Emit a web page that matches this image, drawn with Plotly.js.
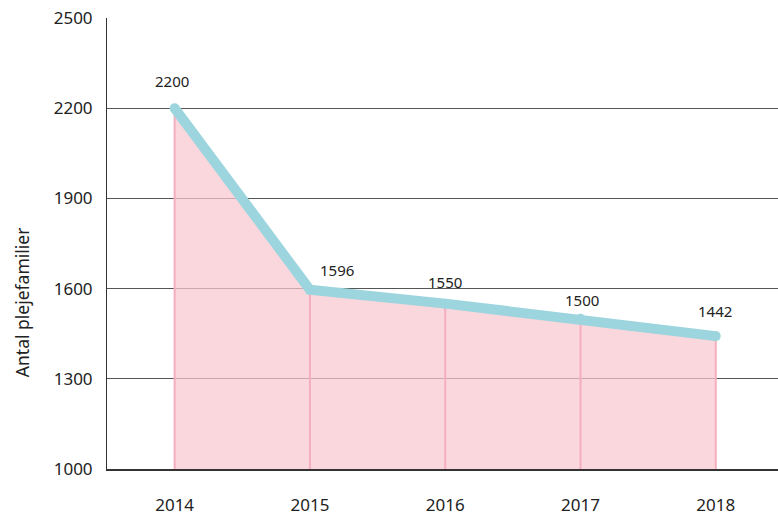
<!DOCTYPE html>
<html><head><meta charset="utf-8">
<script src="https://cdn.plot.ly/plotly-3.0.1.min.js"></script>
<style>html,body{margin:0;padding:0;background:#fff}#chart{width:778px;height:517px}</style>
</head><body><div id="chart"></div>
<script>
const years = ['2014','2015','2016','2017','2018'];
const families = [2200, 1596, 1550, 1500, 1442];
const yTicks = [1000, 1300, 1600, 1900, 2200, 2500];
const yTitle = 'Antal plejefamilier';

const idx = years.map((_, i) => i);
const baseline = 1000;

// vertical drop lines
const dropX = [], dropY = [];
idx.forEach(i => { dropX.push(i, i, null); dropY.push(baseline, families[i], null); });

const traces = [
  { x: idx, y: families, type: 'scatter', mode: 'none', fill: 'tozeroy',
    fillcolor: 'rgba(248,200,208,0.72)', hoverinfo: 'skip' },
  { x: dropX, y: dropY, type: 'scatter', mode: 'lines',
    line: { color: '#f5aebd', width: 2 }, hoverinfo: 'skip' },
  { x: idx, y: families, type: 'scatter', mode: 'lines+markers',
    line: { color: '#9dd5de', width: 10 },
    marker: { color: '#9dd5de', size: 10 }, hoverinfo: 'skip' }
];

const xShift = [-3, 27, 0, 2, -1];
const yShift = [27, 20, 22, 19, 25];
const annotations = idx.map(i => ({
  x: i, y: families[i], text: String(families[i]), showarrow: false,
  xshift: xShift[i], yshift: yShift[i],
  font: { size: 15, color: '#222', family: 'Noto Sans, sans-serif' }
}));
annotations.push({
  xref: 'paper', yref: 'paper', x: 0, y: 0.37, xanchor: 'center', yanchor: 'middle',
  xshift: -85, text: yTitle, textangle: -90, showarrow: false,
  font: { size: 17.5, color: '#222', family: 'Noto Sans, sans-serif' }
});

const layout = {
  width: 778, height: 517,
  margin: { l: 107, r: 0, t: 18, b: 48 },
  paper_bgcolor: '#fff', plot_bgcolor: '#fff',
  showlegend: false,
  font: { family: 'Noto Sans, sans-serif', color: '#222', size: 17 },
  xaxis: {
    range: [-0.5, 4.46], tickvals: idx, ticktext: years,
    showgrid: false, zeroline: false, showline: true,
    linecolor: '#333', linewidth: 1.5, ticks: '',
    ticklabelstandoff: 20, tickfont: { size: 17, color: '#222' }
  },
  yaxis: {
    range: [baseline, 2500], tickvals: yTicks,
    showgrid: true, gridcolor: '#555', gridwidth: 1,
    zeroline: false, showline: true, linecolor: '#333', linewidth: 1,
    ticks: '', ticklabelstandoff: 10, tickfont: { size: 17, color: '#222' }
  },
  annotations: annotations
};

Plotly.newPlot('chart', traces, layout, { displayModeBar: false, staticPlot: true });
</script></body></html>
